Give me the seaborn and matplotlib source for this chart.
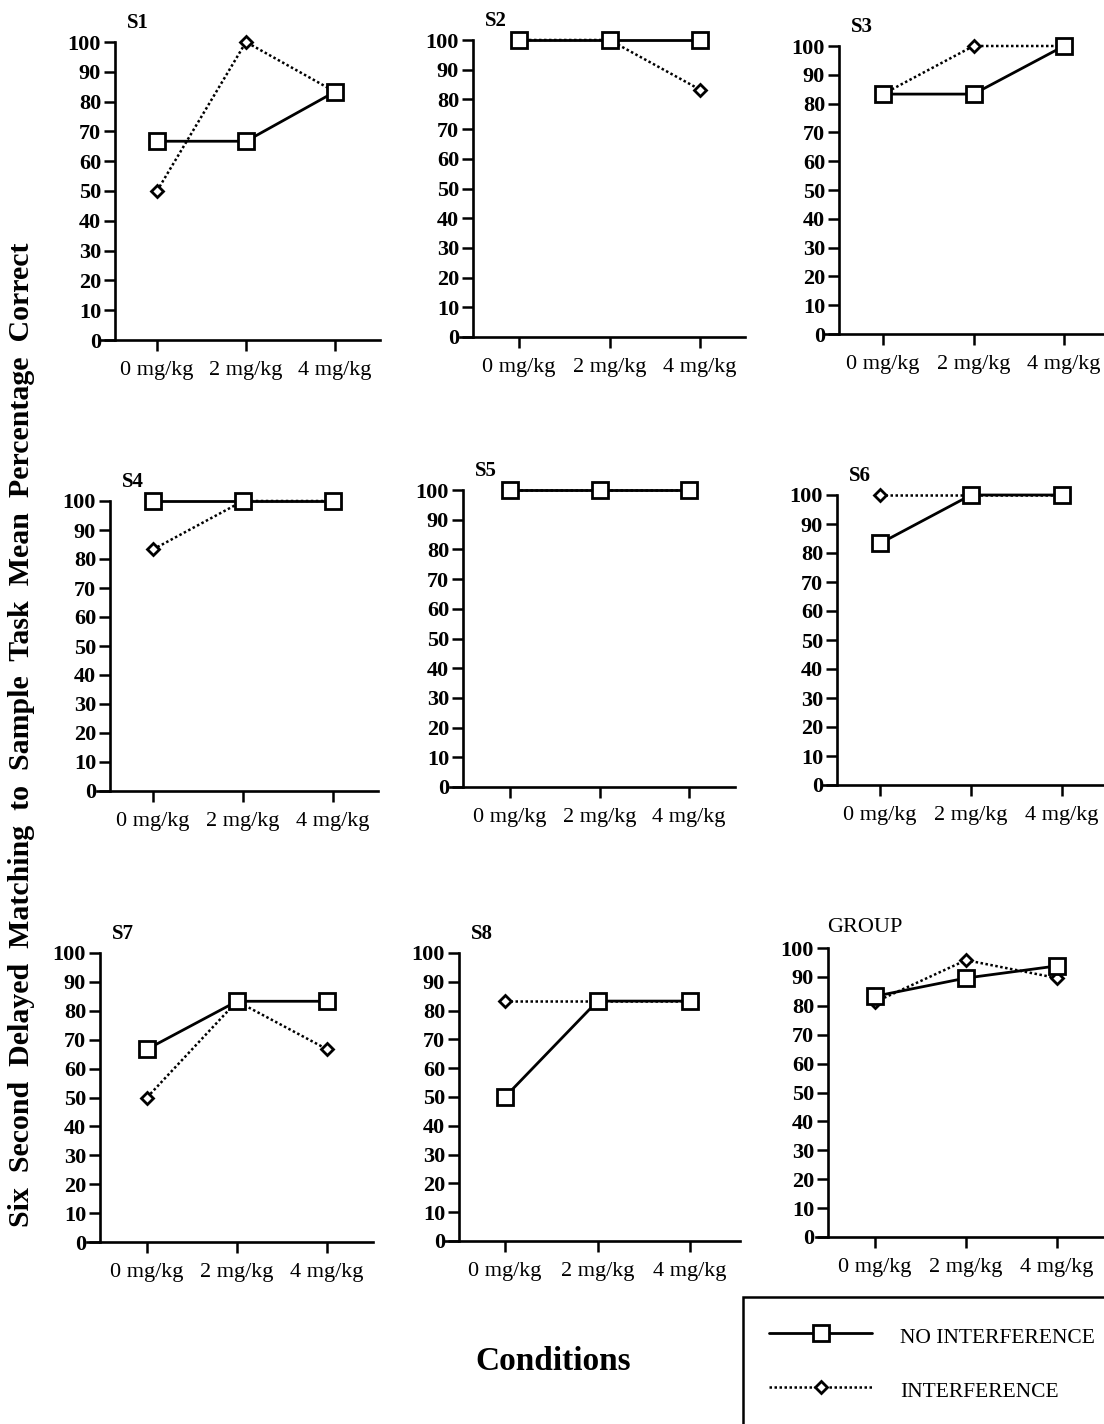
import matplotlib
matplotlib.use('Agg')
import matplotlib.pyplot as plt
import seaborn as sns
import pandas as pd

# ---------------- data ----------------
conditions = ['0 mg/kg', '2 mg/kg', '4 mg/kg']
doses = [0, 1, 2]
panels = ['S1', 'S2', 'S3', 'S4', 'S5', 'S6', 'S7', 'S8', 'GROUP']
no_interference = [
    [66.7, 66.7, 83.3],
    [100, 100, 100],
    [83.3, 83.3, 100],
    [100, 100, 100],
    [100, 100, 100],
    [83.3, 100, 100],
    [66.7, 83.3, 83.3],
    [50, 83.3, 83.3],
    [83.3, 89.6, 93.8],
]
interference = [
    [50, 100, 83.3],
    [100, 100, 83.3],
    [83.3, 100, 100],
    [83.3, 100, 100],
    [100, 100, 100],
    [100, 100, 100],
    [50, 83.3, 66.7],
    [83.3, 83.3, 83.3],
    [81.3, 95.8, 89.6],
]
y_ticks = list(range(0, 101, 10))
series_labels = ['NO INTERFERENCE', 'INTERFERENCE']
y_title = 'Six  Second  Delayed  Matching  to  Sample  Task  Mean  Percentage  Correct'
x_title = 'Conditions'

# ---------------- style ----------------
sns.set_style('ticks')
plt.rcParams['font.family'] = ['Liberation Serif', 'DejaVu Serif']
plt.rcParams['axes.linewidth'] = 1.8
for k in ['text.color', 'axes.labelcolor', 'xtick.color', 'ytick.color', 'axes.edgecolor']:
    plt.rcParams[k] = 'black'

W, H = 1104, 1424
fig = plt.figure(figsize=(W / 100, H / 100), dpi=100)

# layout in pixels: left, right, spine_x, tick0_x, tick2_x, top(100), bottom(0)
layout = [
    (100, 380, 115, 157, 335, 42, 340),
    (460, 745, 473, 519, 700, 40, 337),
    (825, 1104, 839, 883, 1064, 46, 334),
    (97, 378, 110, 153, 333, 501, 791),
    (450, 735, 463, 510, 689, 490, 787),
    (822, 1104, 837, 880, 1062, 495, 785),
    (87, 373, 100, 147, 327, 953, 1242),
    (445, 740, 459, 505, 690, 953, 1241),
    (816, 1104, 828, 875, 1057, 948, 1237),
]

handles = None
for name, ni, it, (L, R, ys, t0, t2, top, bot) in zip(panels, no_interference, interference, layout):
    ax = fig.add_axes([L / W, 1 - bot / H, (R - L) / W, (bot - top) / H])
    d = (t2 - t0) / 2.0
    df_i = pd.DataFrame({'dose': doses, 'pct': it})
    df_n = pd.DataFrame({'dose': doses, 'pct': ni})
    sns.lineplot(data=df_i, x='dose', y='pct', ax=ax, color='black',
                 marker='D', markersize=6.6, markerfacecolor='white',
                 markeredgecolor='black', markeredgewidth=2.0,
                 linestyle=(0, (1, 1.0)), linewidth=1.8, clip_on=False, zorder=3)
    sns.lineplot(data=df_n, x='dose', y='pct', ax=ax, color='black',
                 marker='s', markersize=11, markerfacecolor='white',
                 markeredgecolor='black', markeredgewidth=2.0,
                 linestyle='-', linewidth=2.0, clip_on=False, zorder=4)
    lines = ax.get_lines()
    if handles is None:
        handles = [lines[1], lines[0]]
    ax.set_xlim((L - t0) / d, (R - t0) / d)
    ax.set_ylim(0, 100)
    ax.set_xlabel('')
    ax.set_ylabel('')
    sns.despine(ax=ax)
    ax.spines['left'].set_position(('data', (ys - t0) / d))
    ax.spines['left'].set_linewidth(1.9)
    ax.spines['bottom'].set_linewidth(1.9)
    ax.set_yticks(y_ticks)
    ax.set_yticklabels([str(v) for v in y_ticks], fontweight='bold', fontsize=16)
    ax.set_xticks(doses)
    ax.set_xticklabels(conditions, fontsize=16)
    ax.tick_params(axis='y', length=8, width=1.8, pad=2, colors='black')
    ax.tick_params(axis='x', length=8, width=1.8, pad=7, colors='black')
    ax.patch.set_alpha(0)
    if name == 'GROUP':
        fig.text((ys - 1) / W, 1 - (top - 20) / H, name, fontsize=16,
                 ha='left', va='center')
    else:
        fig.text((ys + 12) / W, 1 - (top - 19) / H, name, fontsize=15,
                 fontweight='bold', ha='left', va='center')

fig.text(22 / W, 1 - 735 / H, y_title, rotation=90, ha='center', va='center',
         fontsize=21.5, fontweight='bold')
fig.text(553 / W, 1 - 1362 / H, x_title, ha='center', va='center',
         fontsize=24, fontweight='bold')

leg = fig.legend(handles=handles, labels=series_labels, loc='upper left',
                 bbox_to_anchor=(743 / W, 1 - 1297 / H), frameon=True,
                 fancybox=False, framealpha=1, edgecolor='black',
                 fontsize=15.5, numpoints=1, handlelength=4.8,
                 handleheight=1.55, handletextpad=1.3, labelspacing=1.25,
                 borderpad=1.2, borderaxespad=0)
leg.get_frame().set_linewidth(1.8)

fig.savefig('out.png', dpi=100)
